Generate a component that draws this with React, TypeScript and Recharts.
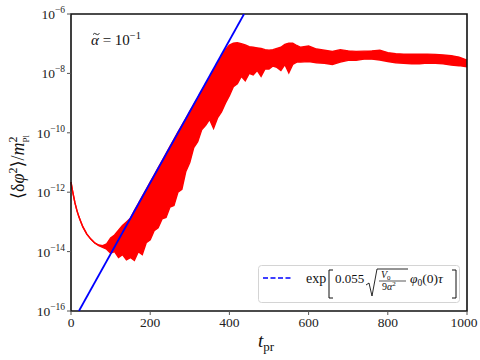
import { ComposedChart, Area, Line, XAxis, YAxis, ReferenceArea, Legend, Customized } from "recharts";

// time samples of the red curve (t_pr) and its lower/upper envelope, as log10 values
const T = [
  0, 3, 6, 10, 15, 20, 25, 30, 40, 50, 60, 70, 80, 90, 100, 110, 120, 130, 140, 150, 160, 170, 180, 190, 200,
  210, 220, 230, 240, 250, 260, 270, 280, 290, 300, 310, 320, 330, 340, 350, 360, 370, 380, 390, 400, 410, 420,
  430, 440, 450, 460, 470, 480, 490, 500, 510, 520, 530, 540, 550, 560, 570, 580, 600, 620, 640, 660, 680, 700,
  720, 740, 760, 780, 800, 820, 840, 860, 880, 900, 920, 940, 960, 980, 1000,
];
const LOG_HIGH = [
  -11.66, -11.9, -12.1, -12.36, -12.62, -12.83, -13.0, -13.17, -13.41, -13.58, -13.71, -13.78, -13.8, -13.74,
  -13.54, -13.44, -13.28, -13.12, -13.0, -12.88, -12.62, -12.38, -12.14, -11.9, -11.66, -11.42, -11.18, -10.94,
  -10.7, -10.46, -10.22, -9.98, -9.75, -9.52, -9.28, -9.05, -8.82, -8.58, -8.35, -8.12, -7.88, -7.65, -7.42,
  -7.2, -7.05, -6.98, -6.97, -7.0, -7.04, -7.1, -7.12, -7.14, -7.16, -7.2, -7.22, -7.2, -7.16, -7.12, -7.02,
  -6.98, -6.98, -7.06, -7.12, -7.08, -7.18, -7.22, -7.26, -7.2, -7.24, -7.26, -7.25, -7.24, -7.22, -7.3, -7.34,
  -7.35, -7.35, -7.35, -7.35, -7.36, -7.38, -7.4, -7.45, -7.55,
];
const LOG_LOW = [
  -11.66, -11.9, -12.1, -12.36, -12.62, -12.83, -13.0, -13.17, -13.41, -13.58, -13.71, -13.8, -13.86, -13.92,
  -14.05, -14.0, -14.2, -14.1, -14.28, -14.2, -14.3, -14.0, -14.1, -13.7, -13.6, -13.3, -13.2, -12.9, -12.85,
  -12.5, -12.45, -12.0, -11.9, -11.3, -11.0, -10.5, -10.3, -9.9, -9.75, -9.55, -9.85, -9.5, -9.3, -9.0, -8.75,
  -8.45, -8.35, -8.1, -8.25, -8.0, -8.05, -7.9, -8.1, -7.85, -7.85, -7.75, -7.8, -7.9, -7.7, -7.98, -7.7, -7.62,
  -7.62, -7.6, -7.64, -7.66, -7.7, -7.62, -7.56, -7.56, -7.52, -7.52, -7.55, -7.6, -7.64, -7.66, -7.68, -7.68,
  -7.65, -7.66, -7.68, -7.72, -7.74, -7.78,
];

// exponential fit (blue)
const FIT_T = [20, 437];
const FIT_VALUE = [1e-16, 1e-6];

const X_TICKS = [0, 200, 400, 600, 800, 1000];
const Y_TICKS = [1e-16, 1e-14, 1e-12, 1e-10, 1e-8, 1e-6];

const serif = "'Liberation Serif', 'DejaVu Serif', serif";

const data = T.map((t, i) => ({ t, band: [10 ** LOG_LOW[i], 10 ** LOG_HIGH[i]] }));
const fitData = FIT_T.map((t, i) => ({ t, fit: FIT_VALUE[i] }));

function YTick({ x, y, payload }: any) {
  const e = Math.round(Math.log10(payload.value));
  return (
    <text x={x} y={y + 5} textAnchor="end" fontFamily={serif} fontSize={13.5} fill="#222">
      10
      <tspan dy={-6} fontSize={9.5}>{"\u2212" + Math.abs(e)}</tspan>
    </text>
  );
}

function XTick({ x, y, payload }: any) {
  return (
    <text x={x} y={y + 10} textAnchor="middle" fontFamily={serif} fontSize={13.5} fill="#222">
      {payload.value}
    </text>
  );
}

function Labels() {
  return (
    <g fontFamily={serif} fill="#111">
      {/* alpha-tilde annotation, the tilde is a small path */}
      <text x={91} y={45} fontSize={15}>
        <tspan fontStyle="italic">{"\u03b1"}</tspan>
        <tspan> = 10</tspan>
        <tspan dy={-6} fontSize={10.5}>{"\u22121"}</tspan>
      </text>
      <path d="M93 34.5 q1.5 -2 3 -0.5 t3.5 -0.5" fill="none" stroke="#111" strokeWidth={0.9} />
      <text x={258} y={347} fontSize={19}>
        <tspan fontStyle="italic">t</tspan>
        <tspan dy={4} fontSize={13}>pr</tspan>
      </text>
      <text transform="translate(24,167) rotate(-90)" textAnchor="middle" fontSize={18}>
        {"\u27e8\u03b4"}
        <tspan fontStyle="italic">{"\u03c6"}</tspan>
        <tspan dy={-7} fontSize={12}>2</tspan>
        <tspan dy={7}>{"\u27e9/"}</tspan>
        <tspan fontStyle="italic">m</tspan>
        <tspan dy={-7} fontSize={12}>2</tspan>
        <tspan dx={-6} dy={12} fontSize={9}>Pl</tspan>
      </text>
    </g>
  );
}

function FitLegend() {
  return (
    <svg width={202} height={38} style={{ display: "block" }}>
      <rect x={0.5} y={0.5} width={201} height={37} rx={3} fill="#fff" fillOpacity={0.85} stroke="#d4d4d4" />
      <line x1={5} x2={35} y1={13} y2={13} stroke="#0000ff" strokeWidth={1.6} strokeDasharray="5 2.5" />
      <g fontFamily={serif} fill="#111">
        <text x={48} y={18} fontSize={14}>exp</text>
        <path d="M75 5 H71 V33 H75" fill="none" stroke="#111" strokeWidth={1} />
        <text x={77} y={18} fontSize={13}>0.055</text>
        <path d="M108 20 L111 18 L114 31 L119 4 H150" fill="none" stroke="#111" strokeWidth={0.9} />
        <text x={123} y={13} fontSize={10} fontStyle="italic">
          V<tspan dy={2} fontSize={7} fontStyle="normal">0</tspan>
        </text>
        <line x1={121} x2={148} y1={16} y2={16} stroke="#111" strokeWidth={0.7} />
        <text x={124} y={25} fontSize={10}>
          9<tspan fontStyle="italic">{"\u03b1"}</tspan>
          <tspan dy={-4} fontSize={7}>2</tspan>
        </text>
        <text x={152} y={18} fontSize={13.5}>
          <tspan fontStyle="italic">{"\u03c6"}</tspan>
          <tspan dy={3} fontSize={9.5}>0</tspan>
          <tspan dy={-3}>(0)</tspan>
          <tspan fontStyle="italic">{"\u03c4"}</tspan>
        </text>
        <path d="M194 5 H198 V33 H194" fill="none" stroke="#111" strokeWidth={1} />
      </g>
    </svg>
  );
}

export default function App() {
  return (
    <div style={{ position: "absolute", left: 0, top: 0, background: "#fff" }}>
      <ComposedChart width={480} height={360} data={data} margin={{ top: 14, right: 13, left: 0, bottom: 0 }}>
        <XAxis
          dataKey="t"
          type="number"
          domain={[0, 1000]}
          ticks={X_TICKS}
          height={49}
          tickSize={4}
          tick={<XTick />}
          axisLine={false}
          tickLine={{ stroke: "#555" }}
        />
        <YAxis
          scale="log"
          domain={[1e-16, 1e-6]}
          allowDataOverflow
          ticks={Y_TICKS}
          width={71}
          tickSize={4}
          tick={<YTick />}
          axisLine={false}
          tickLine={{ stroke: "#555" }}
        />
        <Area
          type="linear"
          dataKey="band"
          stroke="#ff0000"
          strokeWidth={1.4}
          fill="#ff0000"
          fillOpacity={1}
          isAnimationActive={false}
        />
        <Line
          data={fitData}
          type="linear"
          dataKey="fit"
          stroke="#0000ff"
          strokeWidth={1.8}
          dot={false}
          isAnimationActive={false}
        />
        <ReferenceArea x1={0} x2={1000} y1={1e-16} y2={1e-6} fill="none" stroke="#111" strokeWidth={1.6} ifOverflow="visible" />
        <Legend
          layout="vertical"
          align="center"
          verticalAlign="middle"
          content={<FitLegend />}
          wrapperStyle={{ left: 258, top: 265, width: 202, height: 38 }}
        />
        <Customized component={<Labels />} />
      </ComposedChart>
    </div>
  );
}
